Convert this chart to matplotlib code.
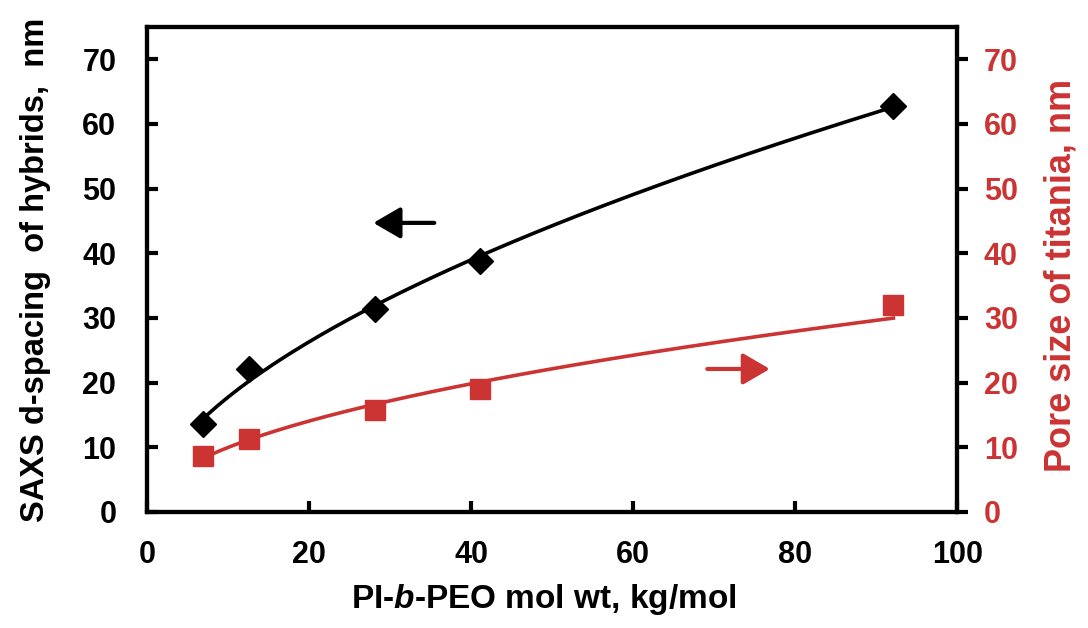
import numpy as np
import matplotlib
matplotlib.use('Agg')
import matplotlib.pyplot as plt

plt.rcParams['font.family'] = ['Liberation Sans', 'DejaVu Sans']
plt.rcParams['font.weight'] = 'bold'
plt.rcParams['mathtext.fontset'] = 'custom'
plt.rcParams['mathtext.bfit'] = 'Liberation Sans:italic:bold'
plt.rcParams['mathtext.rm'] = 'Liberation Sans:bold'

# data
mol_wt = [6.9, 12.6, 28.2, 41.1, 92.1]
d_spacing = [13.6, 22.1, 31.4, 38.8, 62.8]
pore_size = [8.6, 11.2, 15.8, 19.0, 32.0]

red = '#cc3333'

# power-law trend lines fitted to the points
xs = np.linspace(min(mol_wt), max(mol_wt), 200)
b1, a1 = np.polyfit(np.log(mol_wt), np.log(d_spacing), 1)
b2, a2 = np.polyfit(np.log(mol_wt), np.log(pore_size), 1)

fig = plt.figure(figsize=(10.88, 6.28), dpi=100)
ax = fig.add_axes([0.135, 0.185, 0.745, 0.772])
ax2 = ax.twinx()

ax.plot(xs, np.exp(a1) * xs ** b1, color='black', lw=2.6, zorder=2)
ax.plot(mol_wt, d_spacing, 'D', color='black', ms=13.5, zorder=3)
ax2.plot(xs, np.exp(a2) * xs ** b2, color=red, lw=2.6, zorder=2)
ax2.plot(mol_wt, pore_size, 's', color=red, ms=15, zorder=3)

ax.set_xlim(0, 100)
ax.set_ylim(0, 75)
ax2.set_ylim(0, 75)
ax.set_xticks([0, 20, 40, 60, 80, 100])
ax.set_yticks(range(0, 80, 10))
ax2.set_yticks(range(0, 80, 10))

for a in (ax, ax2):
    for s in a.spines.values():
        s.set_linewidth(3)
ax.tick_params(axis='both', direction='in', length=8, width=3, labelsize=22)
ax.tick_params(axis='x', pad=20)
ax.tick_params(axis='y', pad=22)
ax2.tick_params(axis='y', direction='out', length=8, width=3, labelsize=22,
                labelcolor=red, pad=11)

ax.set_xlabel('PI-$\\mathbfit{b}$-PEO mol wt, kg/mol', fontsize=24, fontweight='bold')
ax.set_ylabel('SAXS d-spacing  of hybrids,  nm', fontsize=23.5, fontweight='bold')
ax2.set_ylabel('Pore size of titania, nm', fontsize=26, fontweight='bold', color=red)
ax.xaxis.set_label_coords(0.489, -0.145)
ax.yaxis.set_label_coords(-0.118, 0.5)
ax2.yaxis.set_label_coords(1.106, 0.488)

ax.annotate('', xy=(27.6, 44.7), xytext=(35.8, 44.7),
            arrowprops=dict(arrowstyle='-|>,head_length=0.55,head_width=0.32',
                            color='black', lw=3, mutation_scale=30))
ax2.annotate('', xy=(77.2, 22.1), xytext=(68.8, 22.1),
             arrowprops=dict(arrowstyle='-|>,head_length=0.55,head_width=0.32',
                             color=red, lw=3, mutation_scale=30))

fig.savefig('out.png', dpi=100)
